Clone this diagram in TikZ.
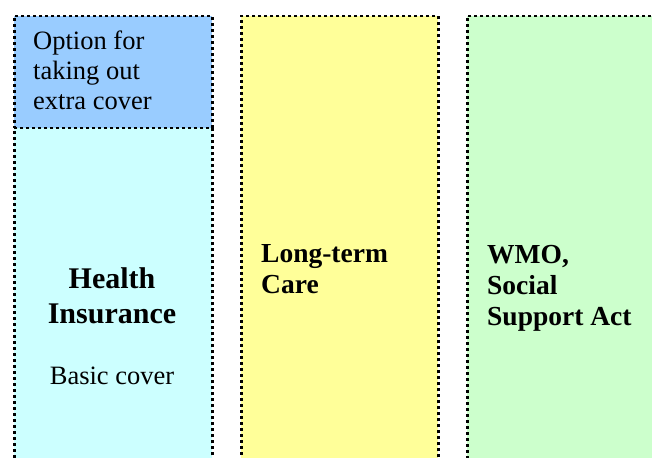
\documentclass[tikz,border=0pt]{standalone}
\usepackage{fontspec}
\setmainfont{Liberation Serif}
\usetikzlibrary{positioning}
\definecolor{extrablue}{HTML}{99CCFF}
\definecolor{basiccyan}{HTML}{CCFFFF}
\definecolor{careyellow}{HTML}{FFFF99}
\definecolor{wmogreen}{HTML}{CCFFCC}
\tikzset{
    colbox/.style={draw, line width=2.5pt, dash pattern=on 3pt off 3pt, inner sep=0pt, anchor=north west},
    plaintext/.style={inner sep=0pt, align=left, font=\fontsize{26.5}{30}\selectfont},
    boldtext/.style={plaintext, font=\fontsize{27.5}{31}\selectfont\bfseries}
}

\begin{document}
\begin{tikzpicture}[x=1pt, y=-1pt]
    \clip (0,0) rectangle (652,457);
    % columns
    \node[colbox, fill=basiccyan, minimum width=198pt, minimum height=345pt] (basic) at (13,127) {};
    \node[colbox, fill=extrablue, minimum width=198pt, minimum height=112pt] (extra) at (13,15) {};
    \node[colbox, fill=careyellow, minimum width=197pt, minimum height=460pt] (ltc) at (240,15) {};
    \node[colbox, fill=wmogreen, minimum width=210pt, minimum height=460pt] (wmo) at (466,15) {};
    % texts (base = last line)
    \node[plaintext, anchor=base west] (extratxt) at (33,110) {Option for\\taking out\\extra cover};
    \node[boldtext, align=center, anchor=base, font=\fontsize{30}{35}\selectfont\bfseries] (hitxt) at (112,323) {Health\\Insurance};
    \node[plaintext, anchor=base] (basictxt) at (112,384) {Basic cover};
    \node[boldtext, anchor=base west] (ltctxt) at (261,293) {Long-term\\Care};
    \node[boldtext, anchor=base west] (wmotxt) at (487,325) {WMO,\\Social\\Support Act};
\end{tikzpicture}
\end{document}
